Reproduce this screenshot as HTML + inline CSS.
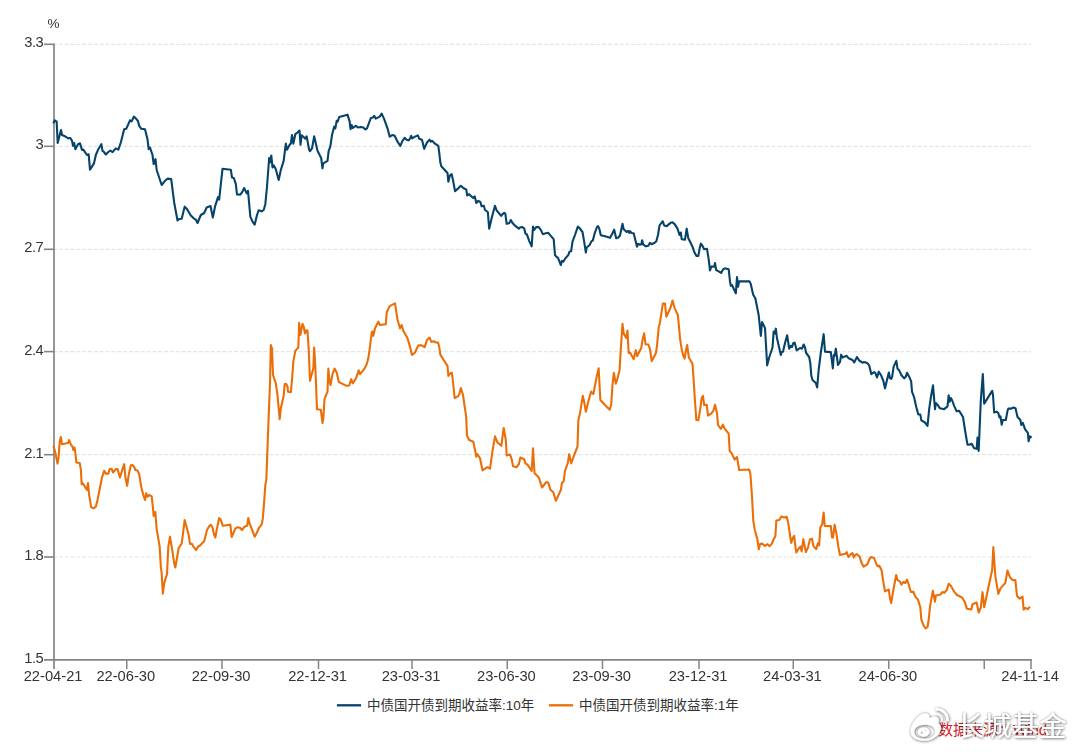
<!DOCTYPE html>
<html lang="zh"><head><meta charset="utf-8"><title>中债国开债到期收益率</title>
<style>
html,body{margin:0;padding:0;background:#fff;}
body{width:1080px;height:752px;position:relative;overflow:hidden;font-family:"Liberation Sans",sans-serif;color:#333;}
.t{position:absolute;font-size:14.7px;line-height:16px;white-space:nowrap;color:#333;}
.yl{text-align:right;width:43.3px;left:0;letter-spacing:-0.45px;}
.xl{text-align:center;width:80px;}
.hid{position:absolute;color:transparent;font-size:13.5px;line-height:16px;white-space:nowrap;}
</style></head><body>
<svg width="1080" height="752" viewBox="0 0 1080 752" style="position:absolute;left:0;top:0">
<line x1="53.0" y1="44.3" x2="1031" y2="44.3" stroke="#e5e5e5" stroke-width="1.2" stroke-dasharray="3.95 1.893"/>
<line x1="53.0" y1="146.3" x2="1031" y2="146.3" stroke="#e5e5e5" stroke-width="1.2" stroke-dasharray="3.95 1.893"/>
<line x1="53.0" y1="249.3" x2="1031" y2="249.3" stroke="#e5e5e5" stroke-width="1.2" stroke-dasharray="3.95 1.893"/>
<line x1="53.0" y1="351.6" x2="1031" y2="351.6" stroke="#e5e5e5" stroke-width="1.2" stroke-dasharray="3.95 1.893"/>
<line x1="53.0" y1="454.7" x2="1031" y2="454.7" stroke="#e5e5e5" stroke-width="1.2" stroke-dasharray="3.95 1.893"/>
<line x1="53.0" y1="557.0" x2="1031" y2="557.0" stroke="#e5e5e5" stroke-width="1.2" stroke-dasharray="3.95 1.893"/>
<line x1="54" y1="43.5" x2="54" y2="669" stroke="#858585" stroke-width="1.7"/>
<line x1="44" y1="659.9" x2="1031.8" y2="659.9" stroke="#858585" stroke-width="1.8"/>
<line x1="44" y1="44.3" x2="54" y2="44.3" stroke="#858585" stroke-width="1.6"/>
<line x1="44" y1="146.3" x2="54" y2="146.3" stroke="#858585" stroke-width="1.6"/>
<line x1="44" y1="249.3" x2="54" y2="249.3" stroke="#858585" stroke-width="1.6"/>
<line x1="44" y1="351.6" x2="54" y2="351.6" stroke="#858585" stroke-width="1.6"/>
<line x1="44" y1="454.7" x2="54" y2="454.7" stroke="#858585" stroke-width="1.6"/>
<line x1="44" y1="557.0" x2="54" y2="557.0" stroke="#858585" stroke-width="1.6"/>
<line x1="126.75" y1="659.9" x2="126.75" y2="669" stroke="#858585" stroke-width="1.5"/>
<line x1="222" y1="659.9" x2="222" y2="669" stroke="#858585" stroke-width="1.5"/>
<line x1="318.5" y1="659.9" x2="318.5" y2="669" stroke="#858585" stroke-width="1.5"/>
<line x1="412" y1="659.9" x2="412" y2="669" stroke="#858585" stroke-width="1.5"/>
<line x1="507.25" y1="659.9" x2="507.25" y2="669" stroke="#858585" stroke-width="1.5"/>
<line x1="602.5" y1="659.9" x2="602.5" y2="669" stroke="#858585" stroke-width="1.5"/>
<line x1="699" y1="659.9" x2="699" y2="669" stroke="#858585" stroke-width="1.5"/>
<line x1="793.25" y1="659.9" x2="793.25" y2="669" stroke="#858585" stroke-width="1.5"/>
<line x1="888.75" y1="659.9" x2="888.75" y2="669" stroke="#858585" stroke-width="1.5"/>
<line x1="984.25" y1="659.9" x2="984.25" y2="669" stroke="#858585" stroke-width="1.5"/>
<line x1="1031" y1="659.9" x2="1031" y2="669" stroke="#858585" stroke-width="1.5"/>
<path d="M53.33,445.83 L55.33,452.5 L57.5,463.67 L58.67,456.67 L59.67,441.67 L60.83,437 L62,444.17 L66.67,443.33 L68.67,442.5 L69.17,440 L70.83,444.67 L72.5,446.67 L73.33,450 L74.5,447.5 L75.33,452.5 L76.33,462.5 L79.67,463 L80.83,469.17 L81.67,484.17 L82.83,483.33 L85,486.67 L87,490 L88,483 L89.17,495 L91.17,507.17 L93.67,508.33 L95.83,506.67 L97.5,500 L102,477.5 L104.17,470.83 L105.83,473.67 L108.33,473.67 L109.67,469.17 L111.67,468.83 L113,472.5 L115.83,469.17 L117.5,469.17 L120,477.5 L121.67,471.67 L124.17,464.17 L125.33,476.67 L127.17,485.83 L128.67,475 L130.83,465.33 L132.5,465 L134.17,467 L135.33,470 L137.5,470.5 L139.17,474.17 L141.33,487.5 L143.33,495 L145,500 L146.17,493.33 L147.5,496.67 L149.17,495 L151.67,496.33 L153,508.33 L153.67,515.83 L155.33,512 L156.67,529.17 L159.67,546.67 L160.83,566.67 L161.67,573.33 L162.83,593.67 L164.17,583.33 L167,574.17 L168.33,546.67 L170,536.67 L172.5,551.67 L174.17,563.33 L175.33,567.5 L178.67,548 L181.67,543.67 L183,533.33 L184.67,520 L188.67,535 L190,543.83 L192,543.83 L193.33,546.67 L196.17,550 L198,546.67 L200,545.5 L204.17,541.33 L207,530 L209.5,525.83 L210.83,524.67 L212.5,527.5 L214.17,535 L215.33,537.5 L216.67,530 L219.17,518 L220.83,520 L222.83,525.83 L230.33,524.67 L231.67,537 L235.33,528.67 L237.5,527.17 L240,527.83 L242,530 L244.5,526.67 L247.17,525.83 L248.33,518 L249.67,523.67 L254.67,536.67 L257,532.5 L259.17,527.5 L261.67,524.67 L262.83,518.33 L264.17,501.67 L265.33,485 L266.33,480 L268.33,425 L270,383.33 L270.83,345 L272,348.33 L273,375 L275.83,383.33 L277.5,395 L279.67,419.17 L280.83,408.33 L283.67,395.83 L284.67,384.17 L286.33,384.17 L287.5,386.67 L288,391.67 L290.83,392.17 L292,380 L293.33,361.67 L295.33,350.83 L298.33,347.5 L299.17,322.83 L300.33,335 L301.33,330 L302.5,323.83 L303.67,326.67 L305,333.33 L306.17,330.33 L307.5,330.83 L308.67,348.33 L310,380.83 L313.33,368.33 L314.17,347.5 L315.33,366.67 L316.17,388.33 L317,409.17 L320.83,409.67 L322.5,423 L323.33,418.33 L324.5,399.17 L327.5,391.67 L328.33,368.67 L329.17,378.33 L330.5,385 L332.5,374.17 L334.67,368.67 L336.67,372.5 L338.83,382 L342.5,383.83 L346.67,385.83 L349.17,385.5 L351.17,379.17 L352.83,383.33 L356.17,378 L358.67,370.33 L360,374.17 L364.17,369.17 L366.67,364.17 L368.33,358.33 L370,346.67 L371.67,332.5 L372.5,331.33 L373.33,335.83 L375,328.33 L378.33,321.67 L380,325 L385.83,324.17 L386.67,312.5 L389.67,306.17 L395,303.33 L395.83,308.33 L397.5,319.67 L400,328.33 L401.67,325 L403.33,330.83 L407.5,338.33 L410,346.67 L412,355 L415,352.5 L418.33,345.33 L421.67,345.33 L424.67,347.17 L427,340 L429.67,337.5 L431.33,342 L433.67,341.17 L435.83,342.5 L438,342.5 L439.17,346.67 L440.33,354.67 L443.67,360 L447.5,365.83 L448.33,375.83 L450,373.67 L451.67,372.5 L452.5,377.5 L454.67,398 L457.5,396.67 L459.17,394.67 L460.83,388 L463,395 L466.17,416.67 L467,435.83 L469.17,440 L473.33,441.67 L475,450 L476.33,456.67 L477.5,454.17 L480,458.33 L482.5,470.33 L485,468.67 L487.5,467.17 L490,468.67 L492.5,450.83 L495,436.33 L497.5,442.5 L501.33,445.83 L503.67,428 L505.83,440 L506.67,455.5 L510,454.5 L511.67,459.17 L513,466.17 L516.67,467.17 L518.83,464.17 L520.33,457.5 L524.17,459.17 L525.5,463.33 L527.5,464.67 L531.67,470.83 L533,448.33 L534.5,473 L538.83,477.5 L542,487.5 L546.33,482 L548.33,482.83 L550.5,490 L553.33,492.17 L555.83,500.83 L560.83,490 L562,482.83 L563.67,481.33 L565,470.83 L567.83,463 L569.17,454.17 L571.17,463.33 L574.17,455 L577.5,446.67 L578.33,420.5 L580,413.33 L582.83,395.83 L584.17,401.67 L585.83,411.67 L589.17,398.33 L591.17,391.67 L593.33,394.17 L597,375 L598.67,368.33 L600.33,400 L605,405 L609.67,409.67 L611.17,405 L612.5,385 L613.83,372.83 L615.83,383.67 L617.5,378.33 L619.5,370.83 L620.83,348.33 L622.5,323.83 L623.67,333.67 L626.33,337.83 L627.5,330.5 L628.67,353 L630,352.5 L633.67,359.17 L635.83,350.33 L637.17,356.17 L639.17,352 L641.17,348.33 L642.5,340 L644.17,333.33 L645.5,344.17 L648.33,344.5 L650,349.17 L651.67,361.17 L655.83,353.33 L657,345.83 L658.67,327.5 L660,322.5 L662.83,303.67 L665,303.67 L666.33,316.67 L669.17,310.83 L670.83,306.67 L672.5,300.5 L674.67,308.33 L677.83,315 L679.17,328.33 L680,338.33 L681.67,349.17 L683.33,355.83 L684.67,358.67 L685.83,350.83 L687.17,345 L688.83,357.5 L692.5,363.83 L693.67,380 L694.67,396.67 L696.33,420 L698.33,420.33 L700.33,408.33 L701.67,398 L703,395.83 L704.17,405 L706.67,404.67 L708,415.5 L710.83,413.83 L713.33,410.83 L715,404.67 L717,413.33 L718,425 L720.83,428.83 L722.83,424.67 L725,429.17 L728.67,433.67 L729.67,450.83 L731.67,453.33 L734.67,459.67 L737,457 L739.17,470 L749.17,469.5 L750.33,473.33 L750.83,480 L752,496.67 L753.33,520.83 L754.67,529.17 L757.5,540 L758.83,549.17 L760,544.17 L761.67,543.33 L765,545.83 L767.5,544.17 L769.67,546.17 L772,543.33 L773.33,540 L775.33,536.33 L776.33,520.5 L779.17,520 L781.67,516.33 L784.17,517.5 L786.67,516.67 L788.33,523.33 L790,535 L791.17,542.83 L793,537.5 L794.17,535.83 L795.33,545.83 L796.33,552.5 L798.67,548.67 L800.33,546.67 L801.67,551.33 L803.33,539.17 L805.83,552 L808,547.5 L810,539.17 L812,538.67 L813.33,545.83 L816.17,549.17 L818,543 L819.17,545.33 L820.33,527.5 L822.17,524.17 L823.67,512.5 L824.67,525.83 L830.83,526.17 L832,537.5 L833,537.5 L834.67,524.67 L836.67,535 L838.33,546.67 L840,555 L845.33,553.83 L846.67,552 L848.33,557 L850.83,554.17 L852.5,553 L853.67,557.5 L855.33,554.67 L857,554.17 L859.67,556.67 L861.67,563.33 L863.67,566.67 L867.5,564.17 L869.17,559.67 L870.83,557 L874.17,558 L876.67,565 L878,566.33 L879.17,565.5 L881.67,570.5 L883,580 L885,591.33 L888.83,589.5 L890,598.67 L891.17,603 L893.33,590 L896.17,575 L897.5,580 L900,581.67 L901.33,584.67 L903.33,582 L905.33,583 L907,579.67 L908.33,583.33 L910.83,592 L913.33,591.67 L915.33,596.67 L918,599.67 L920.33,607.5 L921.33,619.67 L923.33,625 L925.33,628.33 L927.5,627 L928.67,620 L930,606.67 L932.83,590.83 L935,601.67 L935.83,595.5 L940,594.67 L942.5,592 L944.17,592.83 L946.67,590.33 L948.67,583.83 L950.83,585.83 L954.17,591.67 L957,595 L962,597.5 L964.67,601.67 L967,608.83 L971.33,609.5 L972.5,604.17 L976.67,602.5 L978.67,612.5 L980.83,607.5 L982.5,592.17 L984.17,607.17 L992.17,570 L993.33,547.17 L995.33,575.83 L998.33,593.83 L1000.5,588.33 L1005.33,582.83 L1007.5,570.5 L1010,577.5 L1013,580.33 L1015.33,580 L1017,595.83 L1019.67,598.67 L1022.5,596.67 L1023.67,609.67 L1025.33,607.83 L1027.5,609.17 L1030,606.67" fill="none" stroke="#eb6f08" stroke-width="2.1" stroke-linejoin="round" stroke-linecap="butt"/>
<path d="M53.33,123.33 L54.67,120.33 L56.67,121.67 L57.67,143 L61,130 L62,135 L65,136.33 L68.33,138.33 L70.33,138 L72,140.83 L73,145.83 L74.17,143 L75.33,149.17 L78,144.17 L80,143.33 L82,150 L83.33,149.5 L84.67,151.67 L87,155 L88.67,154.33 L90,169.67 L94,163.33 L95.83,155 L98.33,149.17 L101.33,144.17 L102.5,150.83 L103.67,151.67 L105.83,154.5 L108.33,152 L110.33,150.5 L112.5,152.17 L115.83,148.33 L118.33,149.67 L120.83,142.5 L124.17,129.17 L126.33,128.67 L130,120.33 L131.67,121.33 L133.83,116.67 L135.83,118.33 L138,121.17 L139.17,125.83 L141.33,128.83 L145,129.33 L147.5,139.17 L148.67,149.17 L150,147.5 L152.5,155 L153.67,164.17 L155.5,159.17 L156.67,170 L161.67,185 L165,180.83 L167.5,178.67 L171.17,179 L174.17,202.5 L177.5,220.5 L179.17,219 L181.67,218.67 L184.67,206.67 L186.67,208.67 L190.83,215.5 L193.67,218.33 L195.83,219.67 L197.5,223 L200.83,215 L204.17,213 L206.67,207.5 L210.5,206 L212.83,217.5 L215,206.67 L218,197.17 L219.17,199.67 L222.5,168.83 L230.83,169.67 L232,177.5 L233.83,178 L235.83,184.17 L237,194.5 L240,194.67 L242,192.5 L244.17,188 L246.67,193.33 L248,190.83 L250.33,216.67 L252.5,221.67 L254.67,224.67 L257,215 L258.67,210.33 L261.67,211.33 L263.67,210 L265.33,204.17 L267,186.67 L269.17,158 L270,162.5 L271.33,155.5 L272.5,167.5 L273.67,165.33 L275.83,169.17 L278.67,180 L280.83,170 L283.67,160.83 L285.83,143.67 L287,149.67 L289.67,144.67 L290.83,143.67 L292,135 L293.33,143.67 L295.33,134.17 L297.5,132.5 L299.5,130.5 L300.5,144.67 L301.67,135.33 L304.17,137.5 L305.33,138.67 L306.67,136.33 L309.17,150 L310,151.17 L312,148.33 L314.17,136.33 L317.5,150.83 L320,155.83 L321.17,158 L322.5,168.33 L323.33,163.33 L327.5,160.83 L328.67,150.83 L330.33,146.67 L332,135 L334.17,126.67 L335.33,128.33 L336.67,120.83 L337.67,121.67 L339.17,117 L347.5,114.67 L349.67,121.67 L350.5,129.17 L351.67,125 L352.5,128 L355.83,125.83 L358,127.5 L360.83,127 L363.33,127.5 L365.33,129.5 L367,128.33 L370.83,118 L373,117.5 L374.17,115.83 L375.83,118.67 L379.67,116.67 L381.67,113.67 L384.17,119.17 L387.5,128.33 L389.67,136.67 L392.5,135 L394.67,135.83 L397.5,141.67 L400.33,145.83 L402.5,140.83 L404.67,137.83 L406.67,139.67 L408.67,140.33 L410,138.67 L411.17,135.83 L412.17,138.33 L415,136.67 L417.83,135.33 L419.17,138.67 L422,139.67 L424.17,148.83 L427,142.5 L429.5,139.67 L430.83,141.67 L432,140.83 L435,143.67 L438.33,145.83 L439.5,155 L440.33,162.5 L441.33,166.33 L447.5,173 L448.33,181.67 L450,175.33 L451.67,174.17 L453,180 L455,191.17 L458.33,188.33 L460.83,185.83 L463.33,188 L466.33,189.67 L467.17,195.5 L469.17,194.17 L471.67,196.67 L473.33,198 L474.67,196.33 L476.33,203 L478.33,200.83 L480.33,202 L481.67,206.33 L483.83,205.83 L485,210 L487.83,212 L489.17,228.67 L492,216.67 L495,205.83 L496.67,210.5 L501.17,215.83 L502.5,214.17 L504.17,212.83 L505.33,213.67 L506.67,223.83 L509.17,223.33 L510.83,220 L512.5,223 L514.67,225.33 L518.83,228.67 L520,227.5 L522,227 L524.17,228.33 L525.33,233.33 L527,234.67 L529.17,240.83 L531.67,246.33 L533,226.67 L534.17,230 L536.17,227.17 L538.83,227 L540.83,230 L542.83,234.17 L545.83,233.33 L548.33,232.83 L550.33,235.33 L553.67,239.17 L555,255 L556.33,256.67 L558,257.83 L560.83,265 L562,260.83 L563.33,261.67 L565.33,258.33 L568.33,255 L569.5,251.67 L571.17,251.17 L572.5,241.67 L575,235 L577.83,226.67 L579.5,228 L582.5,232 L584.17,241.67 L585.83,252.5 L586.67,247.5 L589.67,245 L591.33,241.33 L592.83,240.5 L594.67,233.33 L597,227 L598,226.17 L599.17,228.33 L600.83,235.33 L605,236.33 L610,237.83 L612,234.17 L614.17,229.67 L616.17,238.33 L618.33,237.5 L620,235.5 L621.17,230 L622.5,223.83 L623.67,229.17 L626.67,232 L628,230.83 L629.17,232.83 L630,231.17 L631.67,233 L633.67,233.33 L635.33,240 L637,246.67 L638,243.83 L640,244.67 L641.33,244.17 L642.17,240.33 L643.33,244.67 L645.83,246.33 L648.33,245.83 L650,242.83 L651.67,244.17 L654.67,242.83 L656.33,241.33 L658,235 L659.5,225.5 L661.67,222.5 L662.83,221.33 L664.17,225.5 L666.67,226.17 L670.83,222.67 L672.5,222.33 L674.67,224.17 L677.5,228.67 L679.5,235 L680.83,232.5 L681.67,239.17 L685,239.67 L686.67,228.67 L688.33,238.33 L690.83,243.33 L692.5,246.67 L694.17,251.67 L696.33,255.83 L698.33,255.83 L699.67,248.33 L700.83,243.67 L702,245 L704.17,249.17 L707,248.83 L708.67,259.17 L710,270.33 L711.33,266.67 L714.17,266.67 L715,263 L716.17,270 L718.67,271.33 L721.17,273 L723,269.5 L725,268.33 L728.67,269.17 L730,281.67 L730.83,285.83 L732,285 L735.83,293.33 L737,277 L738,286.67 L739.17,281.33 L749.5,281.33 L750.83,284.17 L752.5,291.67 L753.33,295 L755.33,298.33 L758.67,315 L760.83,335.83 L762,322 L765,328 L767.17,365.33 L769.17,357.5 L772.5,347.5 L773.67,331.67 L774.67,333.67 L775.83,328.67 L777,338.33 L780.83,355 L781.67,352 L783,351.67 L785,343 L787.17,335.33 L789.17,348.67 L790.83,345.83 L792,347 L793.33,343 L794.67,342.67 L796.67,350.33 L800,348 L802,348.67 L803.67,344.5 L805,347.5 L806.17,353 L809.17,357 L810.33,363.33 L811.33,375.83 L812.5,380 L815.83,383 L817.17,387.5 L818.67,370 L820.83,352.5 L823.67,334.17 L825,351.67 L830.83,352.17 L832.83,368.33 L833.83,355 L834.67,355.83 L835.83,348.67 L838,365 L840,362 L841.17,354.67 L842.5,357.5 L846.67,355.83 L848.67,358.33 L852.5,360 L854.17,362.5 L857,357 L859.17,360.5 L862.5,362.67 L864.17,362 L867.5,363.33 L869.17,365.33 L871.33,374.17 L874.17,372.17 L875.33,372.83 L877,377.5 L878.83,371.67 L881.33,375.83 L883.33,380.83 L885,388.33 L888.83,372.5 L890,378.33 L891.33,378.83 L892.17,376.67 L893.67,366.67 L896.33,360.83 L897.5,368.67 L899.17,370.33 L901.33,375 L904.17,378.33 L905.83,376.67 L907,372.83 L909.17,376.67 L911.17,381.33 L912,391.67 L914.17,397.5 L916.17,406.67 L918.33,414.5 L920.33,414.5 L921.33,420.33 L925,422.5 L927.5,425.83 L929.17,409.17 L930.83,397.5 L933,385.33 L935,409.17 L935.83,403 L937.5,404.67 L940,408.33 L944.17,409.17 L947.5,406.33 L948.67,395.33 L949.67,401.67 L950.83,398 L952,400 L954.17,405.83 L956.67,411.33 L959.17,410.83 L963,417 L965,430 L966.67,440 L967.5,444.67 L970,444.5 L971.67,443.83 L974.17,448.33 L976.67,448.83 L977.5,437.5 L978.67,450.83 L980.83,400 L982.83,374.17 L984.17,403.67 L992.17,390.83 L993,395 L994.17,412.5 L996.67,411.67 L998.33,413 L999.5,417.5 L1000.5,416.33 L1001.67,424.67 L1002.83,420 L1005.83,420 L1007.5,410.83 L1008.33,408.67 L1011.33,408.67 L1013.33,407.5 L1015.5,408.33 L1017.5,417 L1020.33,420 L1021.33,425 L1022.83,422.83 L1025,429.17 L1027.83,432.83 L1028.67,441.33 L1029.67,436.33 L1031.67,437.5" fill="none" stroke="#06436b" stroke-width="2.1" stroke-linejoin="round" stroke-linecap="butt"/>
<line x1="336.9" y1="705.3" x2="361.1" y2="705.3" stroke="#06436b" stroke-width="2.3"/>
<line x1="548.9" y1="705.3" x2="573.1" y2="705.3" stroke="#eb6f08" stroke-width="2.3"/>
<text x="367" y="709.7" font-size="13.5" fill="#333333" font-family="&quot;Liberation Sans&quot;, &quot;Noto Sans CJK SC&quot;, sans-serif">中债国开债到期收益率:10年</text>
<text x="579" y="709.7" font-size="13.5" fill="#333333" font-family="&quot;Liberation Sans&quot;, &quot;Noto Sans CJK SC&quot;, sans-serif">中债国开债到期收益率:1年</text>
<text x="938" y="734.5" font-size="15" fill="#d2232a" font-family="&quot;Liberation Sans&quot;, &quot;Noto Sans CJK SC&quot;, sans-serif">数据来源：Wind</text>
<defs><filter id="sh" x="-10%" y="-30%" width="120%" height="160%"><feGaussianBlur in="SourceAlpha" stdDeviation="1.1" result="b1"/><feComponentTransfer in="b1" result="g1"><feFuncA type="linear" slope="0.48"/></feComponentTransfer><feGaussianBlur in="SourceAlpha" stdDeviation="1.4" result="b2"/><feOffset in="b2" dx="1.2" dy="1.2" result="o2"/><feComponentTransfer in="o2" result="g2"><feFuncA type="linear" slope="0.4"/></feComponentTransfer><feMerge><feMergeNode in="g1"/><feMergeNode in="g2"/><feMergeNode in="SourceGraphic"/></feMerge></filter></defs>
<g filter="url(#sh)" fill="#fff">
<text x="956.5" y="735.5" font-size="27.5" fill="#fff" font-family="&quot;Liberation Sans&quot;, &quot;Noto Sans CJK SC&quot;, sans-serif">长城基金</text>
<path fill-rule="evenodd" d="M924.5,713.3 C927.5,713 929.8,715 929.4,718 C931.5,716.5 936.5,715.8 938.2,718.5 C939.3,720.5 938.4,722.5 938.2,723.2 C940.5,724.2 941.5,726.8 940.8,729.5 C939.2,736 931.5,740.8 923.8,740.8 C916.5,740.8 910.4,737.2 910.4,731.3 C910.4,724.5 917.5,714.5 924.5,713.3 Z M925,724.8 C918.5,724.8 914.2,728 914.2,732 C914.2,736 918.5,739 924.5,739 C930.5,739 935,735.8 935,731.5 C935,727.5 931,724.8 925,724.8 Z"/>
<ellipse cx="923.75" cy="732.1" rx="5.85" ry="4.6"/>
<path d="M936.9,713.6 A7,7 0 0 1 941.9,721.2" fill="none" stroke="#fff" stroke-width="1.6"/>
<path d="M935.8,709 A11.5,11.5 0 0 1 947.7,721" fill="none" stroke="#fff" stroke-width="2.5"/>
</g>
<circle cx="921.8" cy="732.6" r="1.2" fill="#c4c4c4"/><circle cx="925.8" cy="730.4" r="0.7" fill="#c4c4c4"/>
</svg>
<div id="labels" style="position:absolute;left:0;top:0;width:1080px;height:752px;will-change:transform">
<div class="t" style="left:47.5px;top:16px;font-size:13.5px">%</div>
<div class="t yl" style="top:34px">3.3</div>
<div class="t yl" style="top:136px">3</div>
<div class="t yl" style="top:239px">2.7</div>
<div class="t yl" style="top:342px">2.4</div>
<div class="t yl" style="top:445px">2.1</div>
<div class="t yl" style="top:547px">1.8</div>
<div class="t yl" style="top:650px">1.5</div>
<div class="t xl" style="left:13.1px;top:668px">22-04-21</div>
<div class="t xl" style="left:85.8px;top:668px">22-06-30</div>
<div class="t xl" style="left:181.1px;top:668px">22-09-30</div>
<div class="t xl" style="left:277.6px;top:668px">22-12-31</div>
<div class="t xl" style="left:371.1px;top:668px">23-03-31</div>
<div class="t xl" style="left:466.4px;top:668px">23-06-30</div>
<div class="t xl" style="left:561.6px;top:668px">23-09-30</div>
<div class="t xl" style="left:658.1px;top:668px">23-12-31</div>
<div class="t xl" style="left:752.4px;top:668px">24-03-31</div>
<div class="t xl" style="left:847.9px;top:668px">24-06-30</div>
<div class="t xl" style="left:990.1px;top:668px">24-11-14</div>
</div>
<div class="hid" style="left:367px;top:697px">中债国开债到期收益率:10年</div>
<div class="hid" style="left:579px;top:697px">中债国开债到期收益率:1年</div>
<div class="hid" style="left:938px;top:721px">数据来源：Wind</div>
<div class="hid" style="left:957px;top:710px;font-size:27px;line-height:30px">长城基金</div>
</body></html>
